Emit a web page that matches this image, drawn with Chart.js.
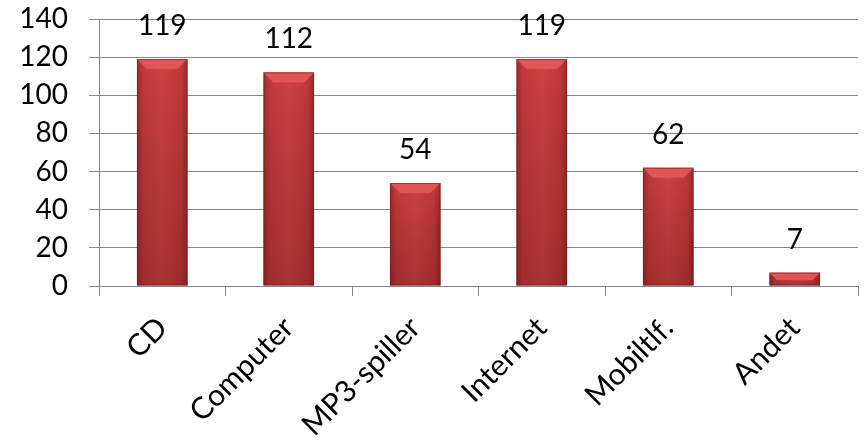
<!DOCTYPE html>
<html>
<head>
<meta charset="utf-8">
<script src="https://cdn.jsdelivr.net/npm/chart.js@4"></script>
<style>
  html, body { margin: 0; padding: 0; background: #fff; }
  #wrap { width: 865px; height: 443px; }
</style>
</head>
<body>
<div id="wrap"><canvas id="chart" width="865" height="443"></canvas></div>
<script>
// data
const categories = ['CD', 'Computer', 'MP3-spiller', 'Internet', 'Mobiltlf.', 'Andet'];
const values = [119, 112, 54, 119, 62, 7];
const yMin = 0;
const yMax = 140;
const yStep = 20;

const FONT = 'Lato, "Open Sans", sans-serif';
const FONT_SIZE = 28;

// shiny red bars: horizontal shading plus a lighter bevel on top
const barLook = {
    id: 'barLook',
    afterDatasetsDraw(chart) {
        const ctx = chart.ctx;
        const meta = chart.getDatasetMeta(0);
        meta.data.forEach((bar, i) => {
            const left = bar.x - bar.width / 2;
            const right = bar.x + bar.width / 2;
            const top = bar.y;
            const bottom = bar.base;
            const h = bottom - top;

            ctx.save();
            // body
            const g = ctx.createLinearGradient(left, 0, right, 0);
            g.addColorStop(0, '#9e2a2b');
            g.addColorStop(0.12, '#c23a3b');
            g.addColorStop(0.5, '#cf4243');
            g.addColorStop(0.88, '#c03839');
            g.addColorStop(1, '#9a2829');
            ctx.fillStyle = g;
            ctx.fillRect(left, top, bar.width, h);

            // darken toward the bottom
            const v = ctx.createLinearGradient(0, top, 0, bottom);
            v.addColorStop(0, 'rgba(0,0,0,0)');
            v.addColorStop(1, 'rgba(60,0,0,0.25)');
            ctx.fillStyle = v;
            ctx.fillRect(left, top, bar.width, h);

            // top bevel
            const bev = Math.min(10, h * 0.6);
            ctx.beginPath();
            ctx.moveTo(left, top);
            ctx.lineTo(right, top);
            ctx.lineTo(right - bev, top + bev);
            ctx.lineTo(left + bev, top + bev);
            ctx.closePath();
            ctx.fillStyle = '#e25556';
            ctx.fill();

            // thin edge
            ctx.strokeStyle = 'rgba(120,30,30,0.6)';
            ctx.lineWidth = 1;
            ctx.strokeRect(left + 0.5, top + 0.5, bar.width - 1, h - 1);
            ctx.restore();

            // value label above the bar
            ctx.save();
            ctx.fillStyle = '#000';
            ctx.font = FONT_SIZE + 'px ' + FONT;
            ctx.textAlign = 'center';
            ctx.textBaseline = 'alphabetic';
            ctx.fillText(String(values[i]), bar.x, top - 24);
            ctx.restore();
        });
    }
};

const ctx = document.getElementById('chart').getContext('2d');
new Chart(ctx, {
    type: 'bar',
    data: {
        labels: categories,
        datasets: [{
            data: values,
            backgroundColor: 'rgba(0,0,0,0)',
            borderWidth: 0,
            barPercentage: 0.4,
            categoryPercentage: 1.0
        }]
    },
    options: {
        responsive: false,
        animation: false,
        layout: { padding: { top: 0, right: 7, left: 0, bottom: 0 } },
        plugins: {
            legend: { display: false },
            tooltip: { enabled: false }
        },
        scales: {
            x: {
                grid: {
                    offset: true,
                    drawOnChartArea: false,
                    drawTicks: true,
                    tickLength: 10,
                    color: '#868686'
                },
                border: { color: '#868686' },
                ticks: {
                    color: '#000',
                    font: { family: FONT, size: 30 },
                    minRotation: 45,
                    maxRotation: 45,
                    autoSkip: false,
                    padding: 14
                },
                afterFit(scale) { scale.height = 443 - 286; }
            },
            y: {
                min: yMin,
                max: yMax,
                grid: {
                    color: '#868686',
                    tickLength: 10
                },
                border: { color: '#868686' },
                ticks: {
                    stepSize: yStep,
                    autoSkip: false,
                    color: '#000',
                    font: { family: FONT, size: FONT_SIZE },
                    padding: 21
                },
                afterFit(scale) {
                    scale.width = 99;
                    scale.paddingTop = 19;
                    scale.paddingBottom = 0;
                }
            }
        }
    },
    plugins: [barLook]
});
</script>
</body>
</html>
